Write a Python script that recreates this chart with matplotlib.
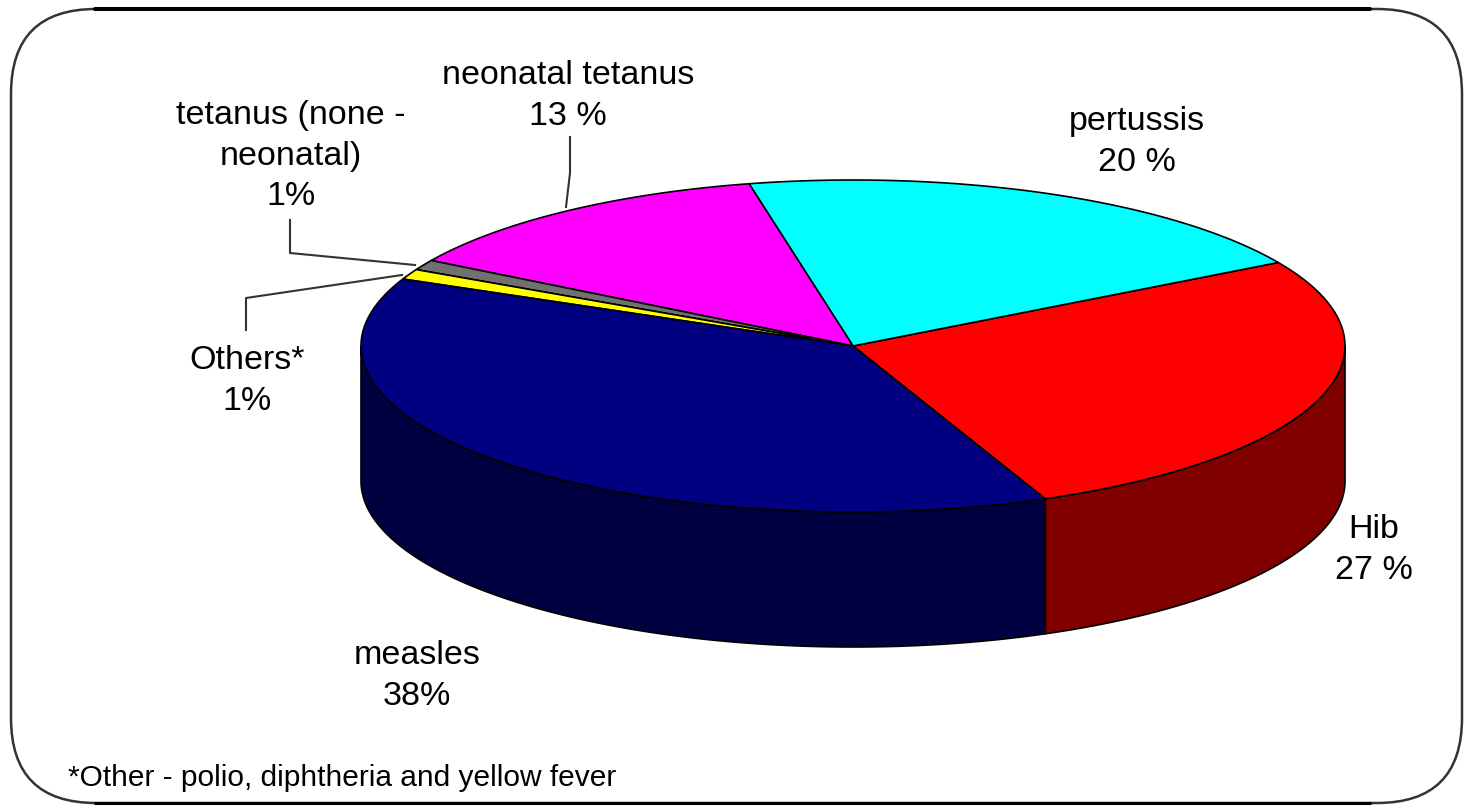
import numpy as np
import matplotlib
matplotlib.use('Agg')
import matplotlib.pyplot as plt
from matplotlib.patches import FancyBboxPatch

# data, counter clockwise from the front
categories = ['Hib', 'pertussis', 'neonatal tetanus', 'tetanus (none -\nneonatal)', 'Others*', 'measles']
values = [27, 20, 13, 1, 1, 38]
pct_labels = ['27 %', '20 %', '13 %', '1%', '1%', '38%']
footnote = '*Other - polio, diphtheria and yellow fever'

top_colors = ['#ff0000', '#00ffff', '#ff00ff', '#707070', '#ffff00', '#000080']
side_colors = ['#800000', '#008080', '#800080', '#404040', '#808000', '#000040']
label_pos = [(1374, 550), (1137, 142), (568, 96), (291, 156), (247, 381), (417, 676)]

# pie geometry in pixels
cx, cy = 853, 346
rx, ry = 492, 166
depth = 135
start = -67.0


def ell(t):
    t = np.radians(t)
    return cx + rx * np.cos(t), cy - ry * np.sin(t)


plt.rcParams['font.family'] = ['Liberation Sans', 'DejaVu Sans']
fig = plt.figure(figsize=(14.64, 8.06), dpi=100)
ax = fig.add_axes([0, 0, 1, 1])
ax.set_xlim(0, 1464)
ax.set_ylim(806, 0)
ax.axis('off')

# frame, the top edge is heavier in the original
ax.add_patch(FancyBboxPatch((11, 9), 1451, 794, boxstyle='round,pad=0,rounding_size=85',
                            fc='white', ec='#333333', lw=1.8, clip_on=False))
ax.plot([95, 1370], [9, 9], color='black', lw=2.9, solid_capstyle='round')
ax.plot([95, 1370], [803, 803], color='black', lw=2.2, solid_capstyle='round')

bounds = start + np.cumsum([0] + values) * 360 / sum(values)

# walls first, only the front half of the rim shows
for i in range(len(values)):
    t0, t1 = bounds[i], bounds[i + 1]
    ranges = [(max(t0, -180), min(t1, 0)), (max(t0, 180), min(t1, 360))]
    for a, b in ranges:
        if b <= a:
            continue
        x, y = ell(np.linspace(a, b, 200))
        ax.fill(np.r_[x, x[::-1]], np.r_[y, y[::-1] + depth], fc=side_colors[i], ec='black', lw=1.2)

# top faces
for i in range(len(values)):
    x, y = ell(np.linspace(bounds[i], bounds[i + 1], 200))
    ax.fill(np.r_[cx, x], np.r_[cy, y], fc=top_colors[i], ec='black', lw=1.2, joinstyle='round')

# leader lines
ax.plot([570, 570, 566], [137, 173, 207], color='#333333', lw=1.5)
ax.plot([290, 290, 415], [220, 253, 265], color='#333333', lw=1.5)
ax.plot([246, 246, 402], [330, 298, 275], color='#333333', lw=1.5)

for name, pct, (x, y) in zip(categories, pct_labels, label_pos):
    ax.text(x, y, name + '\n' + pct, ha='center', va='center', fontsize=24.5,
            color='black', linespacing=1.4)

ax.text(68, 778, footnote, ha='left', va='center', fontsize=21.5, color='black')

fig.savefig('out.png', dpi=100)
